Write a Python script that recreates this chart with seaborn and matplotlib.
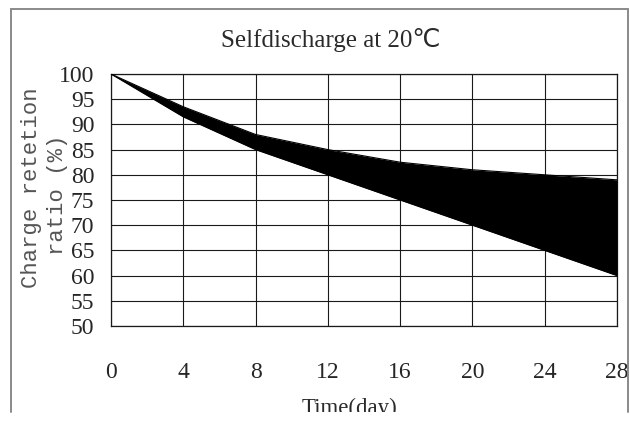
import matplotlib
matplotlib.use("Agg")
import matplotlib.pyplot as plt
import seaborn as sns
import pandas as pd
from matplotlib.lines import Line2D
from matplotlib.patches import Rectangle

# values
days = [0, 4, 8, 12, 16, 20, 24, 28]
upper = [100, 93.5, 88, 85, 82.5, 81, 80, 79]
lower = [100, 91.5, 85, 80, 75, 70, 65, 60]
x_ticks = [0, 4, 8, 12, 16, 20, 24, 28]
y_ticks = [50, 55, 60, 65, 70, 75, 80, 85, 90, 95, 100]

df = pd.DataFrame({"day": days, "upper": upper, "lower": lower})

sns.set_theme(style="white")
mono = ["Liberation Mono", "DejaVu Sans"]
serif = ["Liberation Serif", "DejaVu Sans"]

fig = plt.figure(figsize=(6.3, 4.23), dpi=100)
ax = fig.add_axes([111 / 630, 1 - 326 / 423, 506 / 630, 252 / 423])

# black band between the two curves
ax.fill_between(df["day"], df["lower"], df["upper"], color="black", linewidth=0, zorder=3)
sns.lineplot(data=df, x="day", y="upper", color="black", lw=0.8, ax=ax, zorder=4)
sns.lineplot(data=df, x="day", y="lower", color="black", lw=0.8, ax=ax, zorder=4)

ax.set_xlim(0, 28)
ax.set_ylim(50, 100)
ax.set_xticks(x_ticks)
ax.set_yticks(y_ticks)
ax.set_xticklabels([str(t) for t in x_ticks], family=serif, fontsize=17)
ax.set_yticklabels([str(t) for t in y_ticks], family=serif, fontsize=17)
ax.tick_params(axis="x", length=0, pad=26)
ax.tick_params(axis="y", length=0, pad=12)
ax.set_xlabel("")
ax.set_ylabel("")

ax.grid(True, color="#1a1a1a", lw=0.8)
ax.set_axisbelow(True)
for s in ax.spines.values():
    s.set_color("#1a1a1a")
    s.set_linewidth(0.9)

# title and axis labels
fig.text(331 / 630, 1 - 47 / 423, "Selfdischarge at 20℃", family=serif,
         fontsize=18, ha="center", va="baseline", color="#2a2a2a")
fig.text(32 / 630, 1 - 188 / 423, "Charge retetion", family=mono, fontsize=16,
         rotation=90, ha="center", va="center", color="#555555")
fig.text(57 / 630, 1 - 195 / 423, "ratio (%)", family=mono, fontsize=16,
         rotation=90, ha="center", va="center", color="#555555")
fig.text(349.5 / 630, 1 - 414 / 423, "Time(day)", family=serif, fontsize=16.5,
         ha="center", va="baseline", color="#2a2a2a")

# outer frame, cut off at the bottom like the scan
fig.add_artist(Rectangle((0, 0), 1, 11 / 423, transform=fig.transFigure,
                         facecolor="white", edgecolor="none", zorder=10))
fr = "#8a8a8a"
fig.add_artist(Line2D([11 / 630, 11 / 630], [11 / 423, 1 - 9 / 423], color=fr, lw=1.4,
                      transform=fig.transFigure, zorder=11))
fig.add_artist(Line2D([11 / 630, 628 / 630], [1 - 9 / 423, 1 - 9 / 423], color=fr, lw=1.4,
                      transform=fig.transFigure, zorder=11))
fig.add_artist(Line2D([628 / 630, 628 / 630], [11 / 423, 1 - 9 / 423], color=fr, lw=1.4,
                      transform=fig.transFigure, zorder=11))

fig.savefig("out.png", dpi=100)
